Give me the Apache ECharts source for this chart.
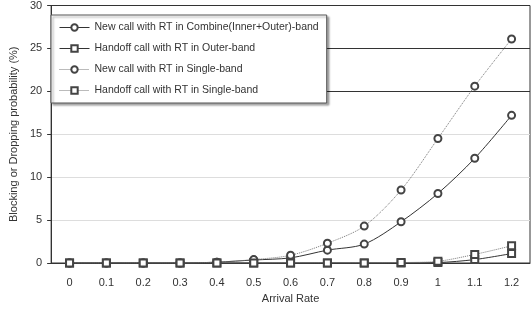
<!DOCTYPE html>
<html><head><meta charset="utf-8">
<script src="https://cdn.jsdelivr.net/npm/echarts@6/dist/echarts.min.js"></script>
<style>html,body{margin:0;padding:0;background:#fff}#c{width:532px;height:309px}</style>
</head><body><div id="c"></div>
<script>
const categories = ['0','0.1','0.2','0.3','0.4','0.5','0.6','0.7','0.8','0.9','1','1.1','1.2'];
const newCombine = [0,0,0,0,0.1,0.35,0.6,1.5,2.2,4.8,8.1,12.2,17.2];
const handoffOuter = [0,0,0,0,0,0,0,0,0,0,0.05,0.4,1.1];
const newSingle = [0,0,0,0,0.1,0.4,0.9,2.3,4.3,8.5,14.5,20.6,26.1];
const handoffSingle = [0,0,0,0,0,0,0,0,0,0.05,0.2,1.0,2.0];
const names = ['New call with RT in Combine(Inner+Outer)-band','Handoff call with RT in Outer-band','New call with RT in Single-band','Handoff call with RT in Single-band'];
const font = 'Liberation Sans, Arial, sans-serif';
function s(name, data, sym, dotted){
  return {name, type:'line', data, smooth:0.3, symbol:sym, symbolSize: 7,
    lineStyle:{color: dotted?'#777':'#333', width:1, type: dotted?'dotted':'solid'},
    itemStyle:{color:'#444', borderColor:'#444', borderWidth:1}};
}
const chart = echarts.init(document.getElementById('c'));
chart.setOption({
  animation:false,
  grid:{left:38,right:2,top:4,bottom:42,show:true,borderColor:'#333',borderWidth:1},
  legend:{orient:'vertical',left:51,top:15,itemGap:10,itemWidth:30,itemHeight:8,padding:[7,8,7,8],
    backgroundColor:'#fff',borderColor:'#555',borderWidth:1,shadowColor:'rgba(0,0,0,0.35)',shadowOffsetX:2,shadowOffsetY:2,shadowBlur:2,
    itemStyle:{borderWidth:1},lineStyle:{width:1},
    textStyle:{fontFamily:font,fontSize:10.5,color:'#333'},data:names},
  xAxis:{type:'category',data:categories,boundaryGap:true,name:'Arrival Rate',nameLocation:'middle',nameGap:30,
    nameTextStyle:{fontFamily:font,fontSize:11,color:'#333'},
    axisLine:{lineStyle:{color:'#333'}},axisTick:{inside:true,length:4,lineStyle:{color:'#333'}},
    axisLabel:{fontFamily:font,fontSize:11,color:'#333',margin:14}},
  yAxis:{type:'value',min:0,max:30,interval:5,name:'Blocking or Dropping probability (%)',nameLocation:'middle',nameGap:28,
    nameTextStyle:{fontFamily:font,fontSize:11,color:'#333'},
    axisLine:{show:true,lineStyle:{color:'#333'}},axisTick:{show:true,length:4,lineStyle:{color:'#333'}},
    axisLabel:{fontFamily:font,fontSize:11,color:'#333',margin:9},
    splitLine:{lineStyle:{color:['#333','#ddd','#ddd','#ddd','#333','#333','#333'],width:1}}},
  series:[s(names[0],newCombine,'emptyCircle',false),s(names[1],handoffOuter,'emptyRect',false),
          s(names[2],newSingle,'emptyCircle',true),s(names[3],handoffSingle,'emptyRect',true)]
});
</script></body></html>
